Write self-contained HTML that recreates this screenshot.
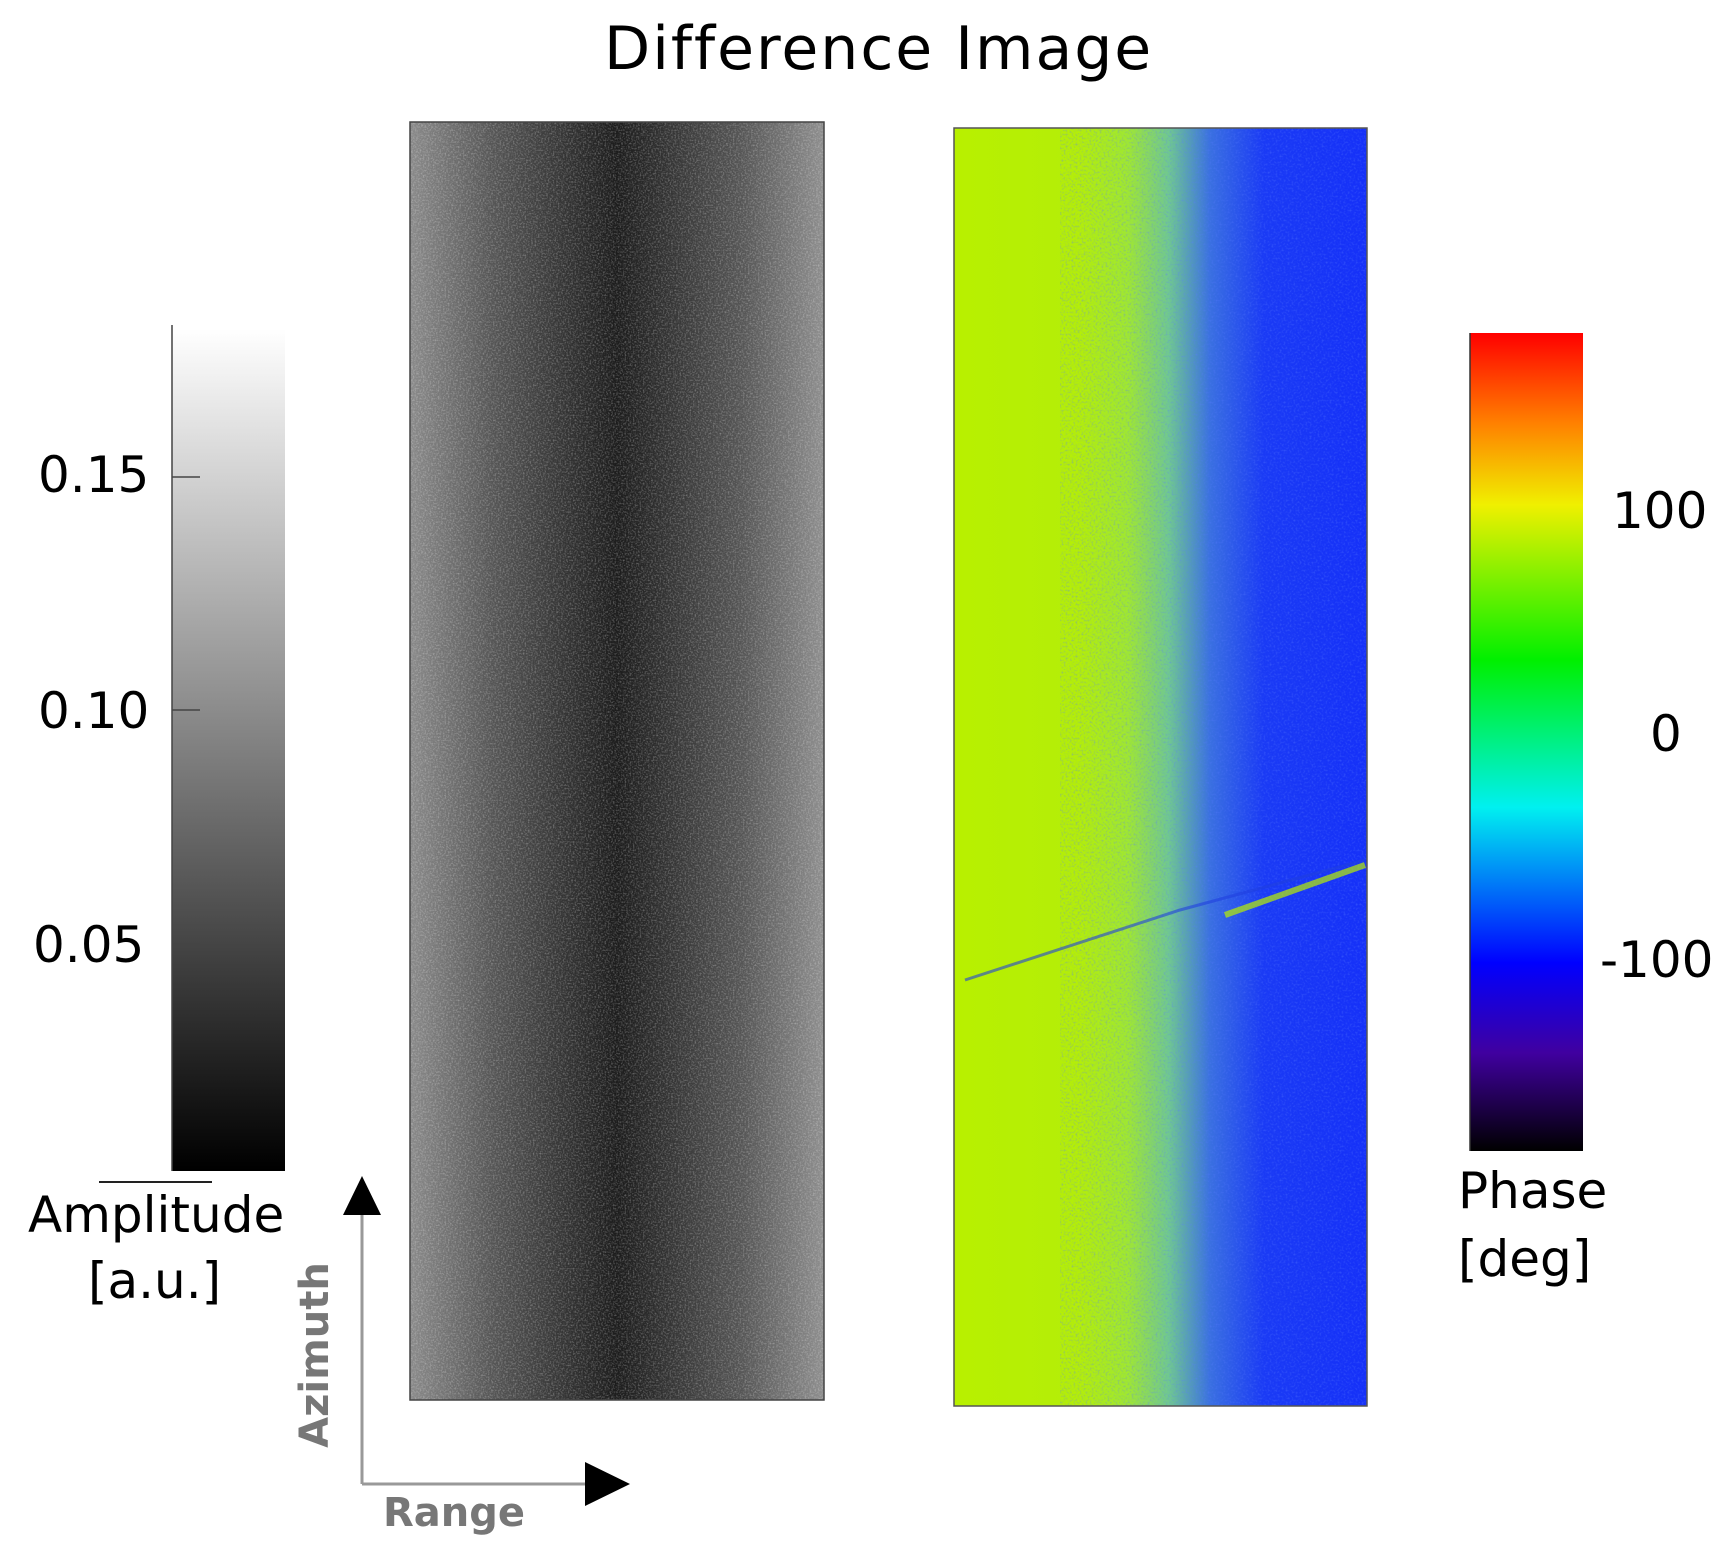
<!DOCTYPE html>
<html><head><meta charset="utf-8"><style>
html,body{margin:0;padding:0;background:#fff;}
body{width:1723px;height:1567px;position:relative;overflow:hidden;font-family:"DejaVu Sans","Liberation Sans",sans-serif;}
.t{position:absolute;color:#000;white-space:nowrap;}
</style></head><body>
<svg width="1723" height="1567" style="position:absolute;left:0;top:0">
<defs>
<linearGradient id="gb" x1="0" y1="0" x2="1" y2="0">
<stop offset="0" stop-color="#8a8a8a"/><stop offset="0.2" stop-color="#555"/>
<stop offset="0.5" stop-color="#1c1c1c"/><stop offset="0.8" stop-color="#555"/><stop offset="1" stop-color="#8e8e8e"/>
</linearGradient>
<linearGradient id="cb" x1="0" y1="0" x2="1" y2="0">
<stop offset="0" stop-color="#b8f000"/><stop offset="0.3" stop-color="#b4ee08"/>
<stop offset="0.42" stop-color="#a0e830"/><stop offset="0.52" stop-color="#70c890"/>
<stop offset="0.62" stop-color="#3a70e0"/>
<stop offset="0.75" stop-color="#1a3af5"/><stop offset="1" stop-color="#1530f8"/>
</linearGradient>
<linearGradient id="amp" x1="0" y1="1" x2="0" y2="0">
<stop offset="0" stop-color="#000"/><stop offset="1" stop-color="#fff"/>
</linearGradient>
<linearGradient id="ph" x1="0" y1="0" x2="0" y2="1">
<stop offset="0" stop-color="#ff0000"/><stop offset="0.11" stop-color="#ff8000"/>
<stop offset="0.21" stop-color="#f0f000"/><stop offset="0.4" stop-color="#00f000"/>
<stop offset="0.58" stop-color="#00f0f0"/><stop offset="0.77" stop-color="#0000ff"/>
<stop offset="0.88" stop-color="#4000a0"/><stop offset="1" stop-color="#000000"/>
</linearGradient>
<filter id="n1" x="0" y="0" width="100%" height="100%">
<feTurbulence type="fractalNoise" baseFrequency="0.6" numOctaves="2" seed="3"/>
<feColorMatrix type="matrix" values="0 0 0 0 1  0 0 0 0 1  0 0 0 0 1  1.4 0 0 0 -0.6"/>
<feComposite in2="SourceGraphic" operator="in"/>
</filter>
<filter id="n2" x="0" y="0" width="100%" height="100%">
<feTurbulence type="fractalNoise" baseFrequency="0.5" numOctaves="2" seed="7"/>
<feColorMatrix type="matrix" values="0 0 0 0 0.1  0 0 0 0 0.2  0 0 0 0 1  1.6 0 0 0 -0.75"/>
<feComposite in2="SourceGraphic" operator="in"/>
</filter>
</defs>
<rect x="410" y="122" width="414" height="1278" fill="url(#gb)"/>
<rect x="410" y="122" width="414" height="1278" fill="#fff" filter="url(#n1)" opacity="0.5"/>
<rect x="410" y="122" width="414" height="1278" fill="none" stroke="#444" stroke-width="1.5"/>
<rect x="954" y="128" width="413" height="1278" fill="url(#cb)"/>
<rect x="1060" y="128" width="307" height="1278" fill="#000" filter="url(#n2)" opacity="0.6"/>
<path d="M965 980 L1180 910 L1365 860" stroke="#2040e0" stroke-width="3" fill="none" opacity="0.6"/>
<path d="M1225 915 L1365 865" stroke="#b8f000" stroke-width="6" fill="none" opacity="0.7"/>
<rect x="954" y="128" width="413" height="1278" fill="none" stroke="#555" stroke-width="1.5"/>
<rect x="172" y="329" width="113" height="842" fill="url(#amp)"/>
<line x1="172" y1="325" x2="172" y2="1171" stroke="#444" stroke-width="1.5"/>
<g stroke="#444" stroke-width="1.5">
<line x1="172" y1="477" x2="200" y2="477"/><line x1="172" y1="710" x2="200" y2="710"/><line x1="172" y1="944" x2="200" y2="944"/>
</g>
<line x1="99" y1="1182" x2="212" y2="1182" stroke="#222" stroke-width="2"/>
<rect x="1470" y="333" width="113" height="818" fill="url(#ph)"/>
<line x1="1470" y1="333" x2="1470" y2="1151" stroke="#333" stroke-width="1.5"/>
<line x1="362" y1="1210" x2="362" y2="1484" stroke="#999" stroke-width="3"/>
<line x1="362" y1="1484" x2="595" y2="1484" stroke="#999" stroke-width="3"/>
<polygon points="362,1176 343,1215 381,1215" fill="#000"/>
<polygon points="630,1484 585,1462 585,1506" fill="#000"/>
</svg>
<div class="t" style="left:604px;top:14px;font-size:60px;letter-spacing:2px;">Difference Image</div>
<div class="t" style="left:38px;top:446px;font-size:50px;">0.15</div>
<div class="t" style="left:38px;top:682px;font-size:50px;">0.10</div>
<div class="t" style="left:33px;top:916px;font-size:50px;">0.05</div>
<div class="t" style="left:28px;top:1186px;font-size:50px;">Amplitude</div>
<div class="t" style="left:88px;top:1252px;font-size:50px;">[a.u.]</div>
<div class="t" style="left:1612px;top:482px;font-size:50px;">100</div>
<div class="t" style="left:1650px;top:705px;font-size:50px;">0</div>
<div class="t" style="left:1600px;top:931px;font-size:50px;">-100</div>
<div class="t" style="left:1458px;top:1162px;font-size:50px;">Phase</div>
<div class="t" style="left:1458px;top:1230px;font-size:50px;">[deg]</div>
<div class="t" style="left:383px;top:1490px;font-size:40px;font-weight:bold;color:#777;">Range</div>
<div class="t" style="left:315px;top:1355px;font-size:40px;font-weight:bold;color:#777;transform:translate(-50%,-50%) rotate(-90deg);">Azimuth</div>
</body></html>
